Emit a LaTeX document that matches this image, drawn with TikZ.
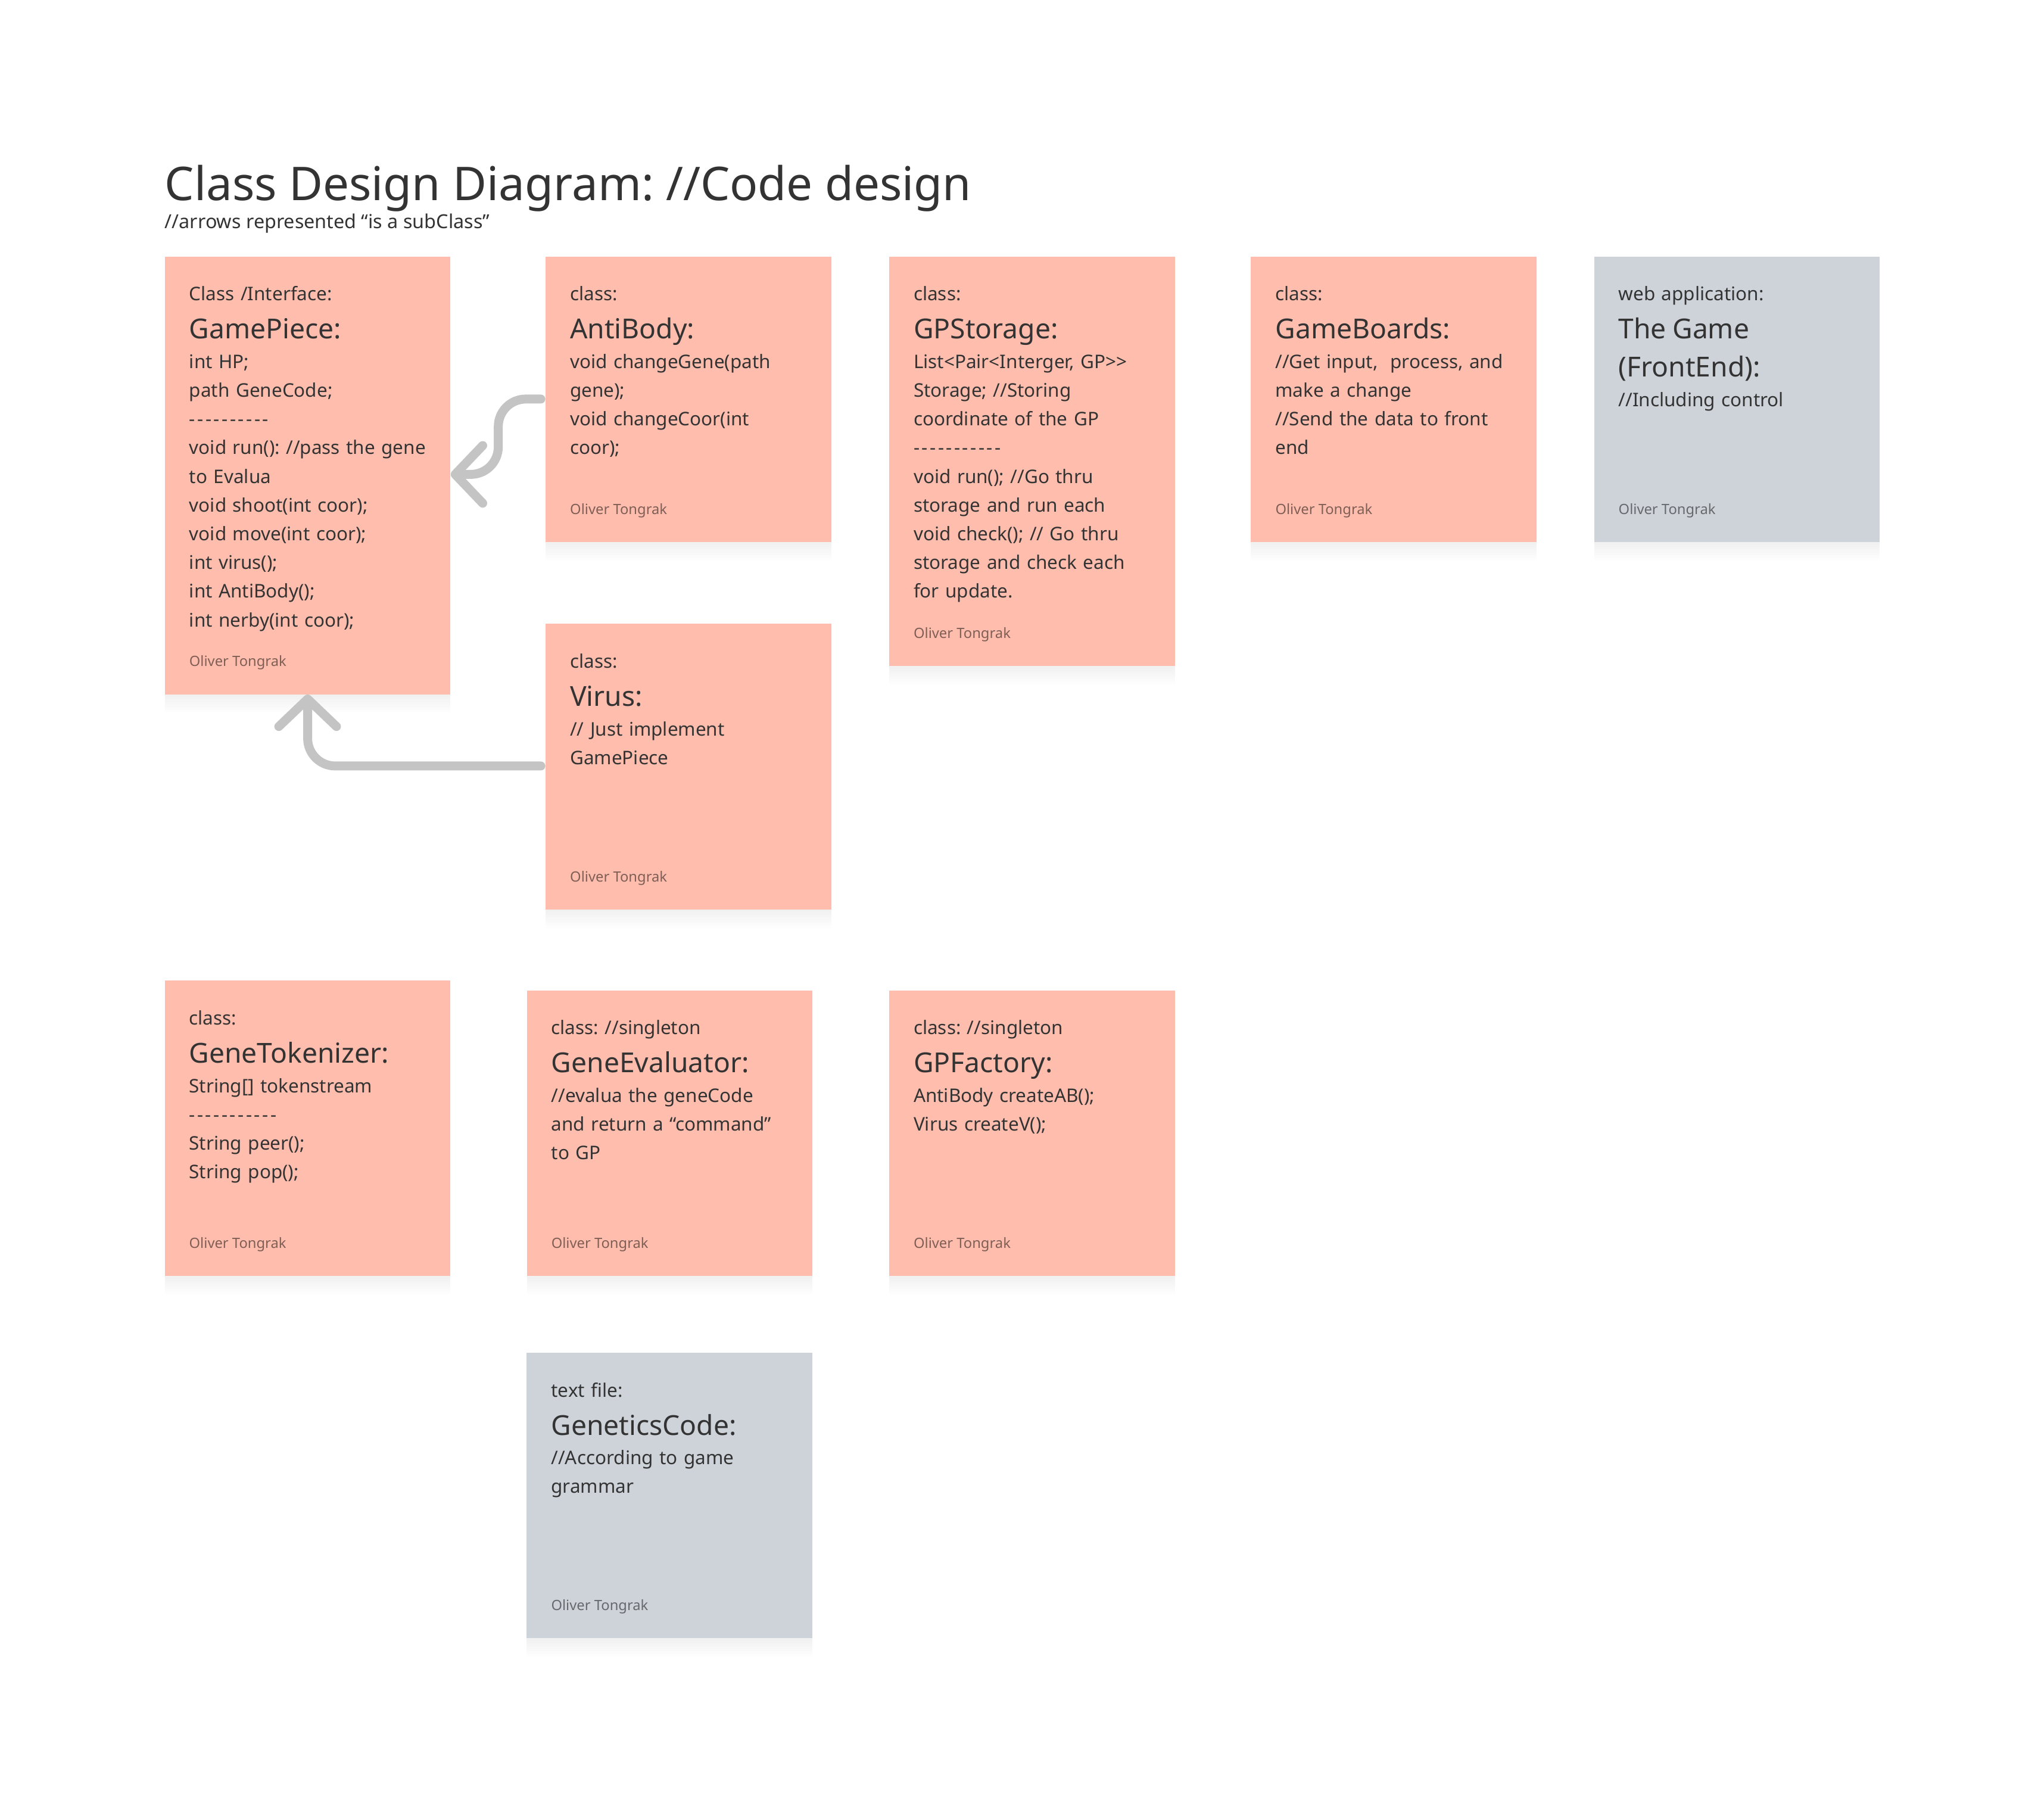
\documentclass[tikz,border=0pt]{standalone}
\usepackage{fontspec}
\setmainfont{Noto Sans}
\usepackage{xcolor}
\usepackage{tikz}
\usetikzlibrary{positioning,arrows.meta,shadows}

\definecolor{notered}{HTML}{FFBDAD}
\definecolor{notegray}{HTML}{CED3DA}
\definecolor{ink}{HTML}{333333}
\definecolor{arrowgray}{HTML}{C4C4C4}

\frenchspacing
\newcommand{\kind}[1]{{\fontsize{14.3}{20}\selectfont #1\par}}
\newcommand{\cname}[1]{{\fontsize{21}{29}\selectfont #1\par}\vspace{0.7pt}}
\newcommand{\dashes}[1]{\foreach \dashnum in {1,...,#1}{-\kern1.6pt}}

\begin{document}
\begin{tikzpicture}[x=1pt, y=1pt,
    soft/.style={drop shadow={shadow xshift=0pt, shadow yshift=-#1, opacity=0.016}},
    note/.style={anchor=north west, minimum width=218, minimum height=218, inner sep=0, fill=notered,
      soft=2pt, soft=4pt, soft=6pt, soft=8pt, soft=10pt, soft=12pt, soft=14pt},
    grey note/.style={note, fill=notegray},
    notetext/.style={anchor=base west, inner sep=0, text width=230, align=left, text=ink,
      font=\fontsize{14.3}{21.9}\selectfont},
    author/.style={anchor=base west, inner sep=0, text=black, text opacity=0.5,
      font=\fontsize{10.8}{14}\selectfont},
    subclass/.style={draw=arrowgray, line width=6.8, line cap=round, line join=round, rounded corners=21,
      -{Straight Barb[length=21pt, width=44pt, round]}}]

    \path[use as bounding box, fill=white] (0,0) rectangle (1560,-1382.7);

    % title
    \node[anchor=base west, inner sep=0, text=ink, font=\fontsize{35.5}{40}\selectfont] (title) at (125.6,-153) {Class Design Diagram: //Code design};
    \node[anchor=base west, inner sep=0, text=ink, font=\fontsize{14.7}{18}\selectfont] (subtitle) at (125.6,-174.2) {//arrows represented “is a subClass”};

    % first row
    \node[note, minimum height=334.1] (gamepiece) at (125.6,-195.5) {};
    \node[notetext] (gamepiece-text) at ([shift={(18.7,-34)}]gamepiece.north west) {%
      \kind{Class /Interface:}
      \cname{GamePiece:}
      int HP;\\
      path GeneCode;\\
      \dashes{10}\\
      void run(): //pass the gene\\
      to Evalua\\
      void shoot(int coor);\\
      void move(int coor);\\
      int virus();\\
      int AntiBody();\\
      int nerby(int coor);};
    \node[author] (gamepiece-author) at ([shift={(18.7,21.5)}]gamepiece.south west) {Oliver Tongrak};

    \node[note] (antibody) at (416.2,-195.5) {};
    \node[notetext] (antibody-text) at ([shift={(18.7,-34)}]antibody.north west) {%
      \kind{class:}
      \cname{AntiBody:}
      void changeGene(path\\
      gene);\\
      void changeCoor(int\\
      coor);};
    \node[author] (antibody-author) at ([shift={(18.7,21.5)}]antibody.south west) {Oliver Tongrak};

    \node[note, minimum height=312.6] (gpstorage) at (678.4,-195.5) {};
    \node[notetext] (gpstorage-text) at ([shift={(18.7,-34)}]gpstorage.north west) {%
      \kind{class:}
      \cname{GPStorage:}
      List<Pair<Interger, GP>{}>\\
      Storage; //Storing\\
      coordinate of the GP\\
      \dashes{11}\\
      void run(); //Go thru\\
      storage and run each\\
      void check(); // Go thru\\
      storage and check each\\
      for update.};
    \node[author] (gpstorage-author) at ([shift={(18.7,21.5)}]gpstorage.south west) {Oliver Tongrak};

    \node[note] (gameboards) at (954.5,-195.5) {};
    \node[notetext] (gameboards-text) at ([shift={(18.7,-34)}]gameboards.north west) {%
      \kind{class:}
      \cname{GameBoards:}
      //Get input, \ process, and\\
      make a change\\
      //Send the data to front\\
      end};
    \node[author] (gameboards-author) at ([shift={(18.7,21.5)}]gameboards.south west) {Oliver Tongrak};

    \node[grey note] (thegame) at (1216.4,-195.5) {};
    \node[notetext] (thegame-text) at ([shift={(18.7,-34)}]thegame.north west) {%
      \kind{web application:}
      \cname{The Game\\(FrontEnd):}
      //Including control};
    \node[author] (thegame-author) at ([shift={(18.7,21.5)}]thegame.south west) {Oliver Tongrak};

    \node[note] (virus) at (416.2,-475.9) {};
    \node[notetext] (virus-text) at ([shift={(18.7,-34)}]virus.north west) {%
      \kind{class:}
      \cname{Virus:}
      // Just implement\\
      GamePiece};
    \node[author] (virus-author) at ([shift={(18.7,21.5)}]virus.south west) {Oliver Tongrak};

    % second row
    \node[note, minimum height=225.3] (genetokenizer) at (125.5,-748.2) {};
    \node[notetext] (genetokenizer-text) at ([shift={(18.7,-34)}]genetokenizer.north west) {%
      \kind{class:}
      \cname{GeneTokenizer:}
      String[] tokenstream\\
      \dashes{11}\\
      String peer();\\
      String pop();};
    \node[author] (genetokenizer-author) at ([shift={(18.7,21.5)}]genetokenizer.south west) {Oliver Tongrak};

    \node[note] (geneevaluator) at (401.9,-755.5) {};
    \node[notetext] (geneevaluator-text) at ([shift={(18.7,-34)}]geneevaluator.north west) {%
      \kind{class: //singleton}
      \cname{GeneEvaluator:}
      //evalua the geneCode\\
      and return a “command”\\
      to GP};
    \node[author] (geneevaluator-author) at ([shift={(18.7,21.5)}]geneevaluator.south west) {Oliver Tongrak};

    \node[note] (gpfactory) at (678.4,-755.5) {};
    \node[notetext] (gpfactory-text) at ([shift={(18.7,-34)}]gpfactory.north west) {%
      \kind{class: //singleton}
      \cname{GPFactory:}
      AntiBody createAB();\\
      Virus createV();};
    \node[author] (gpfactory-author) at ([shift={(18.7,21.5)}]gpfactory.south west) {Oliver Tongrak};

    \node[grey note] (geneticscode) at (401.8,-1032) {};
    \node[notetext] (geneticscode-text) at ([shift={(18.7,-34)}]geneticscode.north west) {%
      \kind{text file:}
      \cname{GeneticsCode:}
      //According to game\\
      grammar};
    \node[author] (geneticscode-author) at ([shift={(18.7,21.5)}]geneticscode.south west) {Oliver Tongrak};

    % subclass arrows
    \draw[subclass] ([shift={(-3.4,-109)}]antibody.north west) -- ++(-32.5,0) |- ([yshift=-166.5]gamepiece.north east);
    \draw[subclass] ([shift={(-3.4,-108.6)}]virus.north west) -| (gamepiece.south);

  \end{tikzpicture}
\end{document}
